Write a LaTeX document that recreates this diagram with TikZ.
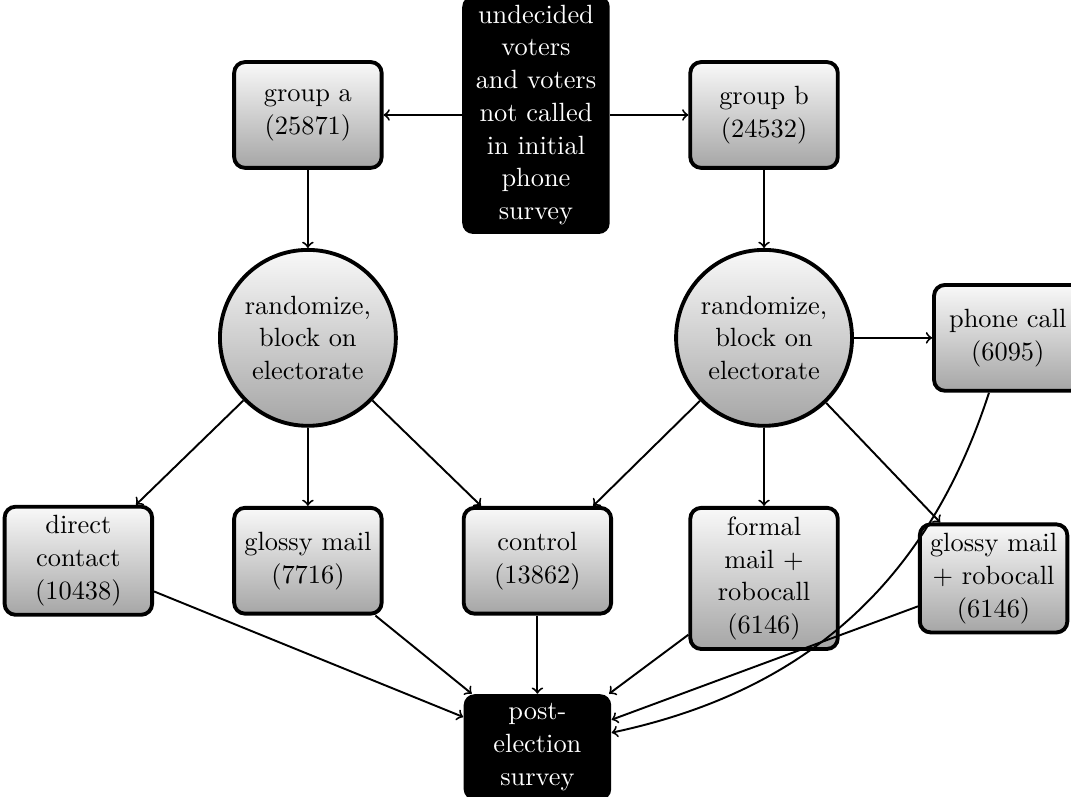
\documentclass[11pt,tikz,border=0pt]{standalone}
\usetikzlibrary{arrows,positioning}
\tikzset{
box/.style={
  rectangle,
  rounded corners=4.5pt,
  draw,
  ultra thick,
  top color=gray!5,
  bottom color=gray!70,
  text width=53.5pt,
  align=center,
  minimum width=61.2pt,
  minimum height=43.9pt,
},
blackbox/.style={
  rectangle,
  rounded corners=4.5pt,
  fill=black,
  text=white,
  text width=53.5pt,
  align=center,
  minimum width=61.2pt,
  minimum height=43.9pt,
},
randomizer/.style={
  circle,
  draw,
  ultra thick,
  top color=gray!5,
  bottom color=gray!70,
  text width=53.5pt,
  align=center,
  inner sep=2pt,
  minimum size=73pt,
},
pil/.style={
       ->,
       thick,
},
}

\begin{document}
\begin{tikzpicture}
\useasboundingbox (-222.4pt,0pt) rectangle (222pt,-330.3pt);
\node[blackbox] (top) at (0,-47.7pt) {undecided voters and voters not called in initial phone survey};
\node[box,left=1.14cm of top] (ga) {group a (25871)};
\node[box,right=1.14cm of top] (gb) {group b (24532)};

\node[randomizer,below=1.14cm of ga] (ra) {randomize, block on electorate};
\node[randomizer,below=1.14cm of gb] (rb) {randomize, block on electorate};
\node[box,right=1.14cm of rb] (phone) {phone call (6095)};

\node[box,below=1.14cm of ra] (glossy) {glossy mail (7716)};
\node[box,left=1.14cm of glossy] (direct) {direct contact (10438)};
\node[box,right=1.14cm of glossy] (control) {control (13862)};
\node[box,below=1.14cm of rb] (formal) {formal mail + robocall (6146)};
\node[box,right=1.14cm of formal] (glossyrobo) {glossy mail + robocall (6146)};

\node[blackbox,below=1.14cm of control] (post) {post-election survey};

\path
  (top) edge[pil] (ga)
  (top) edge[pil] (gb)
  (ga) edge[pil] (ra)
  (gb) edge[pil] (rb)
  (ra) edge[pil] (direct)
  (ra) edge[pil] (glossy)
  (ra) edge[pil] (control)
  (rb) edge[pil] (control)
  (rb) edge[pil] (formal)
  (rb) edge[pil] (glossyrobo)
  (rb) edge[pil] (phone)
  (direct) edge[pil] (post)
  (glossy) edge[pil] (post)
  (control) edge[pil] (post)
  (formal) edge[pil] (post)
  (glossyrobo) edge[pil] (post)
  (phone) edge[pil, bend left=30] (post)
;
\end{tikzpicture}
\end{document}
